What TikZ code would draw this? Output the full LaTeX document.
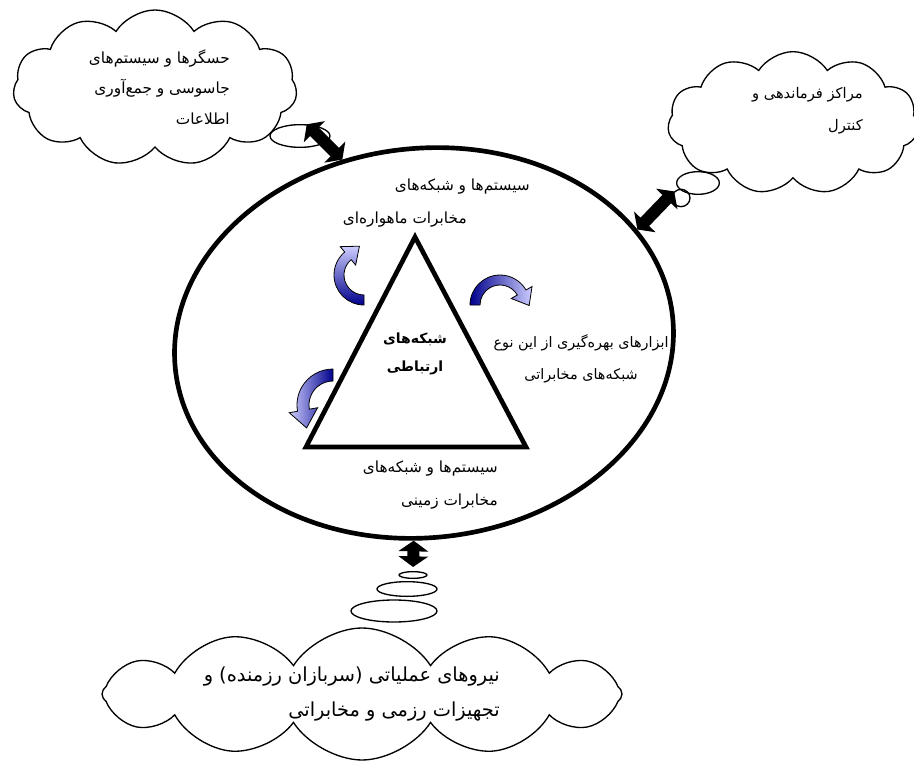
\documentclass[tikz,border=0pt]{standalone}
\usepackage{fontspec}
\newfontfamily\farsi[Script=Arabic]{DejaVu Sans}
\TeXXeTstate=1
\usetikzlibrary{shapes.geometric, shapes.symbols, positioning, arrows.meta, calc}

\definecolor{arrdark}{RGB}{0,0,140}
\definecolor{arrlight}{RGB}{205,205,255}

% bent arrow: scope options, end angle, shading
\newcommand{\bentarrow}[3]{%
  \begin{scope}[#1]
    \pgfmathsetmacro\tipang{#2-90}
    \path[bent, #3] (180:30) arc[start angle=180, end angle=#2, radius=30]
      -- (#2:37) -- ($(#2:25)+(\tipang:15)$) -- (#2:13) -- (#2:20)
      arc[start angle=#2, end angle=180, radius=20] -- cycle;
  \end{scope}}

\begin{document}
\begin{tikzpicture}[x=0.75pt, y=-0.75pt,
    cld/.style={draw, cloud, cloud puffs=11, cloud puff arc=115, cloud ignores aspect, line width=1pt},
    bub/.style={draw, ellipse, line width=1pt, inner sep=0pt},
    txt/.style={font=\farsi\fontsize{11.5}{23}\selectfont, inner sep=0pt},
    bigtxt/.style={font=\farsi\fontsize{14.5}{26}\selectfont, inner sep=0pt},
    boldtxt/.style={font=\farsi\bfseries\fontsize{10.5}{21}\selectfont, inner sep=0pt},
    dbl/.style={line width=9pt, {Triangle[length=8pt,width=22pt]}-{Triangle[length=8pt,width=22pt]}},
    bent/.style={draw=black, line width=0.6pt}
]
    \useasboundingbox (0,0) rectangle (914,763);

    % clouds
    \node[cld, minimum width=213pt, minimum height=117pt] (sensors) at (155,88) {};
    \node[cld, minimum width=188pt, minimum height=107pt] (command) at (793,123) {};
    \node[cld, cloud puffs=12, minimum width=390pt, minimum height=99pt] (forces) at (362,694) {};

    \node[bub, minimum width=45pt, minimum height=17pt] (senbub) at (300,136) {};
    \node[bub, minimum width=32pt, minimum height=17pt] (cmdbub1) at (698,183) {};
    \node[bub, minimum width=13.5pt, minimum height=13pt] (cmdbub2) at (681,198) {};
    \node[bub, minimum width=21pt, minimum height=5pt] (frcbub1) at (413,575) {};
    \node[bub, minimum width=45pt, minimum height=11pt] (frcbub2) at (407,589) {};
    \node[bub, minimum width=64.5pt, minimum height=16.5pt] (frcbub3) at (394,611) {};

    % main ellipse and triangle
    \node[draw, ellipse, line width=3.5pt, inner sep=0pt, minimum width=375pt, minimum height=292pt, rotate=6] (net) at (424,343) {};
    \draw[line width=3.5pt] (415,237) -- (306,447) -- (526,447) -- cycle;

    % texts
    \node[txt, align=right, anchor=east] (sensorstxt) at (230,87)
        {\beginR حسگرها و سیستم‌های\endR\\ \beginR جاسوسی و جمع‌آوری\endR\\ \beginR اطلاعات\endR};
    \node[txt, align=right, anchor=east, font=\farsi\fontsize{11}{24}\selectfont] (commandtxt) at (863,111)
        {\beginR مراکز فرماندهی و\endR\\ \beginR کنترل\endR};
    \node[txt, anchor=east] (sat1) at (530,187) {\beginR سیستم‌ها و شبکه‌های\endR};
    \node[txt, anchor=east] (sat2) at (467,220) {\beginR مخابرات ماهواره‌ای\endR};
    \node[txt, align=center, font=\farsi\fontsize{10.8}{24}\selectfont] (tools) at (581,359)
        {\beginR ابزارهای بهره‌گیری از این نوع\endR\\ \beginR شبکه‌های مخابراتی\endR};
    \node[txt, align=right, anchor=east, font=\farsi\fontsize{11.5}{25}\selectfont] (ground) at (498,485)
        {\beginR سیستم‌ها و شبکه‌های\endR\\ \beginR مخابرات زمینی\endR};
    \node[boldtxt, align=center] (core) at (415,354) {\beginR شبکه‌های\endR\\ \beginR ارتباطی\endR};
    \node[bigtxt, align=right, anchor=east] (forcestxt) at (500,694)
        {\beginR نیروهای عملیاتی (سربازان رزمنده) و\endR\\ \beginR تجهیزات رزمی و مخابراتی\endR};

    % links
    \draw[dbl] (net.108) -- (senbub.60);
    \draw[dbl] (net.22) -- (cmdbub2.north west);
    \draw[dbl, shorten >=3pt] (net.261) -- (frcbub1.north);

    % bent arrows round the triangle
    \bentarrow{shift={(364,275)}, yscale=-1, rotate=-90}{40}{top color=arrlight, bottom color=arrdark}
    \bentarrow{shift={(333,405)}, yscale=-1, rotate=-90, xscale=-1, scale=1.2}{80}{left color=arrlight, right color=arrdark}
    \bentarrow{shift={(500,305)}, yscale=-1}{30}{left color=arrdark, right color=arrlight}
\end{tikzpicture}
\end{document}
